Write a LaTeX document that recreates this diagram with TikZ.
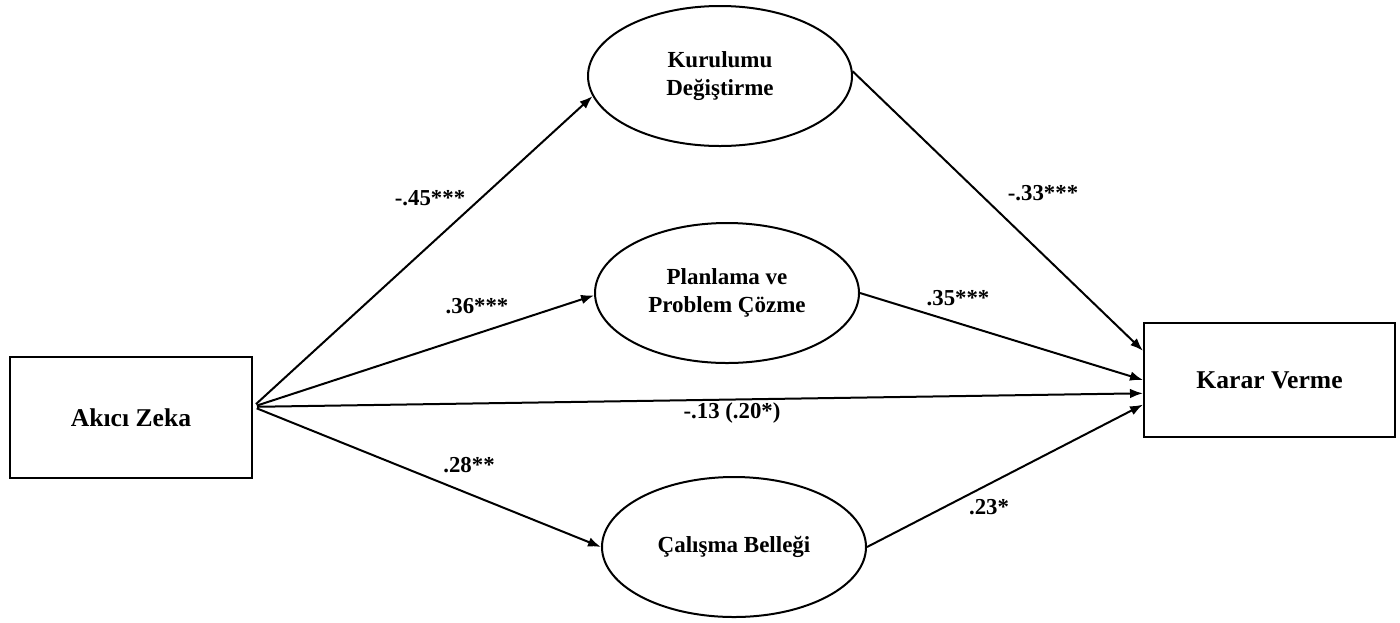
\documentclass[tikz,border=0pt]{standalone}
\usepackage{fontspec}
\setmainfont{Liberation Serif}
\usetikzlibrary{shapes.geometric,arrows.meta}
\begin{document}
\begin{tikzpicture}[x=0.5pt,y=-0.5pt,
  boxnode/.style={draw, line width=1pt, rectangle, inner sep=0pt, font=\fontsize{12.8}{15}\selectfont\bfseries},
  latent/.style={draw, line width=1pt, ellipse, inner sep=0pt, minimum width=132pt, minimum height=70pt, align=center, font=\fontsize{11.5}{14}\selectfont\bfseries},
  conn/.style={line width=1pt, -{Latex[length=6.5pt,width=4.8pt]}},
  coef/.style={font=\fontsize{11.4}{13}\selectfont\bfseries, inner sep=0pt}
]
\useasboundingbox (0,0) rectangle (1400,622);

\node[boxnode, minimum width=121pt, minimum height=60.5pt] (az) at (131,417.5) {Akıcı Zeka};
\node[boxnode, minimum width=125.5pt, minimum height=57pt] (kv) at (1269.5,380) {Karar Verme};
\node[latent] (kd) at (720,76) {Kurulumu\\Değiştirme};
\node[latent] (pp) at (727,293) {Planlama ve\\Problem Çözme};
\node[latent] (cb) at (734,547) {Çalışma Belleği};

\draw[conn, shorten <=2pt] (az.5) -- (kd.189);
\draw[conn, shorten <=2pt] (az.5) -- (pp.181);
\draw[conn, shorten <=2pt] (az.5) -- (kv.186);
\draw[conn, shorten <=2pt] (az.5) -- (cb.west);
\draw[conn] (kd.2) -- (kv.167);
\draw[conn] (pp.east) -- (kv.west);
\draw[conn] (cb.east) -- (kv.191);

\node[coef] (l1) at (430,198) {-.45***};
\node[coef] (l2) at (477,306) {.36***};
\node[coef] (l3) at (732,413) {-.13 (.20*)};
\node[coef] (l4) at (469,465) {.28**};
\node[coef] (l5) at (1043,193) {-.33***};
\node[coef] (l6) at (958,298) {.35***};
\node[coef] (l7) at (989,507) {.23*};
\end{tikzpicture}
\end{document}
